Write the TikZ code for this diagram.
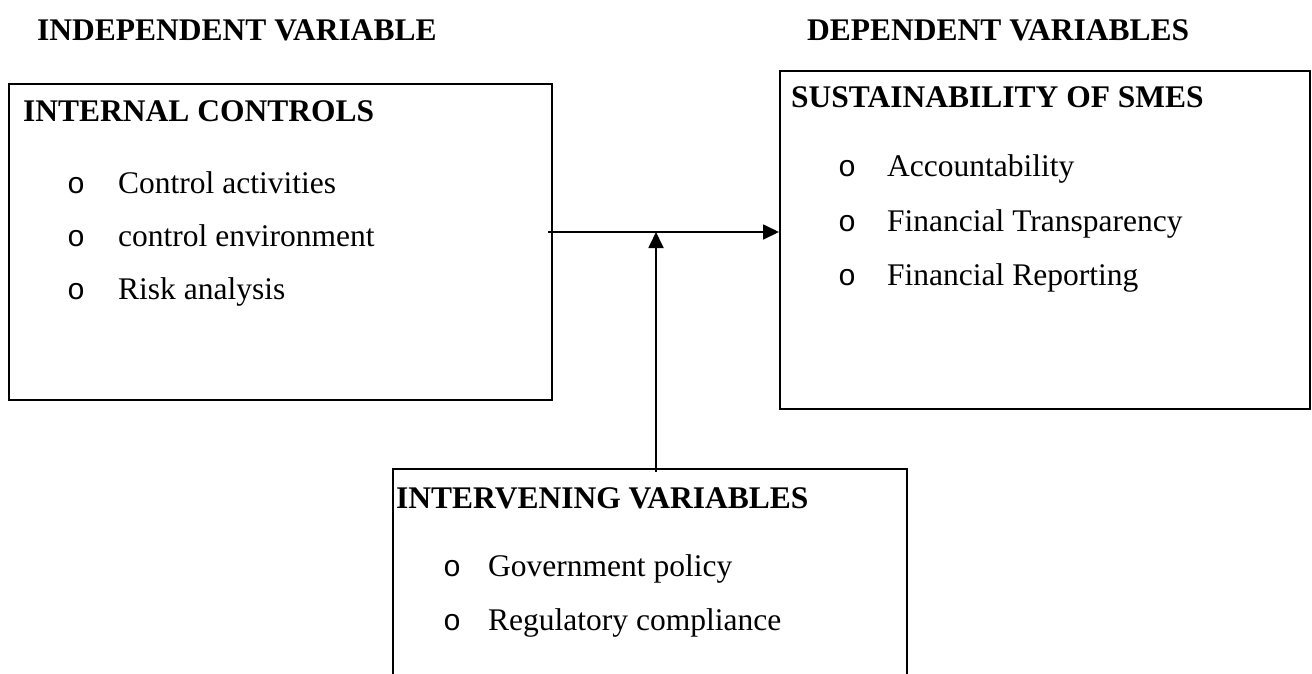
\documentclass[tikz,border=0pt]{standalone}
\usepackage{fontspec}
\setmainfont{Liberation Serif}
\newfontfamily\bulletfont{Liberation Mono}
\usetikzlibrary{arrows.meta}

\tikzset{
  frame/.style={draw=black, line width=1.8pt, fill=none, inner sep=0pt, anchor=north west},
  head/.style={anchor=base west, inner sep=0pt, font=\fontsize{31.5}{38}\selectfont\bfseries},
  item/.style={anchor=base west, inner sep=0pt, font=\fontsize{31.5}{38}\selectfont},
  dot/.style={anchor=base west, inner sep=0pt, font=\fontsize{30}{36}\selectfont\bulletfont},
  link/.style={line width=1.8pt, -{Triangle[length=16pt,width=15pt]}}
}

\begin{document}
\begin{tikzpicture}[x=1pt,y=-1pt]
  \clip (0,0) rectangle (1312,673);
  \fill[white] (0,0) rectangle (1312,673);

  % column titles
  \node[head] (tindep) at (37,40) {INDEPENDENT VARIABLE};
  \node[head] (tdep) at (807,40) {DEPENDENT VARIABLES};

  % independent variable box
  \node[frame, minimum width=543pt, minimum height=316pt] (ic) at (8,83) {};
  \node[head] (icT) at (23,121) {INTERNAL CONTROLS};
  \node[dot]  (icb1) at (67,193) {o};
  \node[item] (ic1)  at (118,193) {Control activities};
  \node[dot]  (icb2) at (67,246) {o};
  \node[item] (ic2)  at (118,246) {control environment};
  \node[dot]  (icb3) at (67,299) {o};
  \node[item] (ic3)  at (118,299) {Risk analysis};

  % dependent variable box
  \node[frame, minimum width=530pt, minimum height=338pt] (sm) at (779,70) {};
  \node[head] (smT) at (791,107) {SUSTAINABILITY OF SMES};
  \node[dot]  (smb1) at (838,176) {o};
  \node[item] (sm1)  at (887,176) {Accountability};
  \node[dot]  (smb2) at (838,231) {o};
  \node[item] (sm2)  at (887,231) {Financial Transparency};
  \node[dot]  (smb3) at (838,285) {o};
  \node[item] (sm3)  at (887,285) {Financial Reporting};

  % intervening variable box (runs past the lower edge)
  \node[frame, minimum width=514pt, minimum height=260pt] (iv) at (392,468) {};
  \node[head] (ivT) at (396,508) {INTERVENING VARIABLES};
  \node[dot]  (ivb1) at (443,576) {o};
  \node[item] (iv1)  at (488,576) {Government policy};
  \node[dot]  (ivb2) at (443,630) {o};
  \node[item] (iv2)  at (488,630) {Regulatory compliance};

  % connectors
  \coordinate (start) at (548,232);
  \coordinate (meet) at (656,232);
  \draw[link] (start) -- (start -| sm.west);
  \draw[link] (656,472) -- (meet);
\end{tikzpicture}
\end{document}
